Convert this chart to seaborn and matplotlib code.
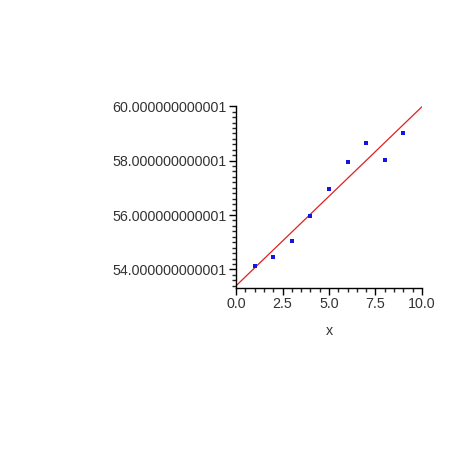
import numpy as np
import pandas as pd
import matplotlib
matplotlib.use("Agg")
import matplotlib.pyplot as plt
import seaborn as sns
from matplotlib.ticker import MultipleLocator

# data
x_vals = [1, 2, 3, 4, 5, 6, 7, 8, 9]
y_vals = [54.14, 54.45, 55.05, 55.96, 56.95, 57.95, 58.65, 58.03, 59.02]
x_ticks = [0.0, 2.5, 5.0, 7.5, 10.0]
x_tick_labels = ["0.0", "2.5", "5.0", "7.5", "10.0"]
y_ticks = [54, 56, 58, 60]
y_tick_labels = ["54.000000000001", "56.000000000001",
                 "58.000000000001", "60.000000000001"]

df = pd.DataFrame({"x": x_vals, "y": y_vals})

# least squares line
slope, intercept = np.polyfit(df["x"], df["y"], 1)
fit = pd.DataFrame({"x": [0, 10]})
fit["y"] = intercept + slope * fit["x"]

sns.set_style("white")
plt.rcParams["font.family"] = ["Liberation Sans", "DejaVu Sans"]

fig = plt.figure(figsize=(4.74, 4.74), dpi=100)
ax = fig.add_axes([0.498, 0.393, 0.392, 0.383])

sns.lineplot(data=fit, x="x", y="y", color="#e02020", linewidth=0.9, ax=ax)
sns.scatterplot(data=df, x="x", y="y", color="#1515e0", marker="s", s=6,
                linewidth=0, ax=ax, zorder=3)

ax.set_xlim(0, 10)
ax.set_ylim(53.33, 60.0)
ax.set_xticks(x_ticks)
ax.set_xticklabels(x_tick_labels)
ax.set_yticks(y_ticks)
ax.set_yticklabels(y_tick_labels)
ax.xaxis.set_minor_locator(MultipleLocator(0.5))
ax.yaxis.set_minor_locator(MultipleLocator(0.2))

ax.tick_params(which="major", direction="out", length=5, width=1,
               labelsize=10.3, colors="black", labelcolor="#333333", pad=2,
               bottom=True, left=True)
ax.tick_params(which="minor", direction="out", length=3, width=1,
               bottom=True, left=True)

sns.despine(ax=ax)
for s in ["left", "bottom"]:
    ax.spines[s].set_color("black")
    ax.spines[s].set_linewidth(1)

ax.set_xlabel("x", fontsize=10.3, color="#333333", labelpad=9)
ax.set_ylabel("")

fig.savefig("out.png", dpi=100, facecolor="white")
